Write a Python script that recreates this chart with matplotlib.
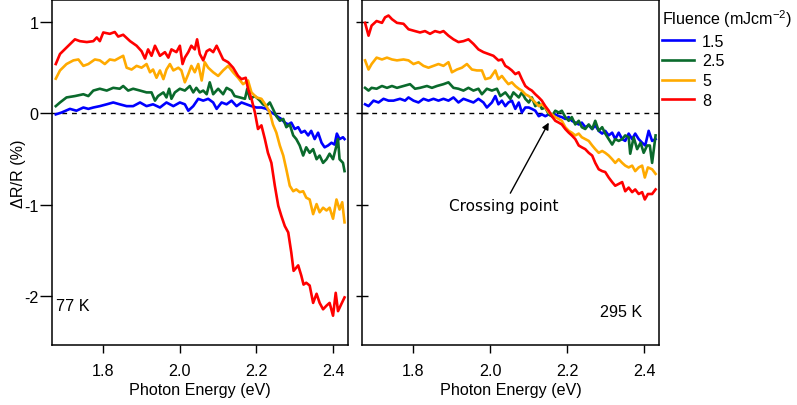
import numpy as np
import matplotlib
matplotlib.use('Agg')
import matplotlib.pyplot as plt

plt.rcParams['font.family'] = ['Liberation Sans', 'DejaVu Sans']
plt.rcParams['mathtext.default'] = 'regular'
plt.rcParams['axes.unicode_minus'] = False

# (photon energy eV, dR/R %)
# ---- 77 K ----
blue_77 = [(1.676, -0.01), (1.691, 0.01), (1.713, 0.05), (1.730, 0.03), (1.748, 0.065), (1.761, 0.05),
           (1.774, 0.065), (1.791, 0.08), (1.809, 0.10), (1.826, 0.12), (1.843, 0.10), (1.861, 0.08),
           (1.878, 0.08), (1.896, 0.12), (1.913, 0.08), (1.930, 0.10), (1.948, 0.065), (1.965, 0.12),
           (1.983, 0.08), (2.000, 0.12), (2.013, 0.10), (2.022, 0.03), (2.035, 0.08), (2.048, 0.16),
           (2.061, 0.14), (2.074, 0.16), (2.087, 0.12), (2.096, 0.05), (2.109, 0.12), (2.122, 0.10),
           (2.135, 0.14), (2.148, 0.08), (2.161, 0.12), (2.174, 0.10), (2.187, 0.08), (2.200, 0.065),
           (2.213, 0.065), (2.226, 0.05), (2.239, 0.01), (2.248, -0.01), (2.257, -0.04), (2.265, -0.06),
           (2.274, -0.10), (2.283, -0.12), (2.291, -0.10), (2.300, -0.17), (2.309, -0.15), (2.317, -0.21),
           (2.326, -0.19), (2.335, -0.24), (2.343, -0.19), (2.352, -0.28), (2.361, -0.21), (2.370, -0.32),
           (2.378, -0.37), (2.387, -0.35), (2.396, -0.32), (2.404, -0.34), (2.410, -0.22), (2.417, -0.28),
           (2.426, -0.26), (2.430, -0.28)]

green_77 = [(1.676, 0.08), (1.687, 0.12), (1.704, 0.175), (1.726, 0.19), (1.748, 0.21), (1.761, 0.19),
            (1.774, 0.25), (1.791, 0.27), (1.809, 0.25), (1.826, 0.28), (1.843, 0.27), (1.852, 0.30),
            (1.865, 0.25), (1.878, 0.27), (1.896, 0.25), (1.913, 0.23), (1.926, 0.23), (1.935, 0.14),
            (1.943, 0.19), (1.957, 0.23), (1.965, 0.175), (1.972, 0.27), (1.978, 0.16), (1.987, 0.23),
            (2.000, 0.27), (2.013, 0.25), (2.026, 0.30), (2.035, 0.23), (2.043, 0.28), (2.052, 0.23),
            (2.061, 0.25), (2.070, 0.21), (2.078, 0.34), (2.087, 0.21), (2.100, 0.27), (2.113, 0.21),
            (2.122, 0.28), (2.135, 0.25), (2.143, 0.19), (2.157, 0.175), (2.170, 0.16), (2.176, 0.27),
            (2.183, 0.16), (2.196, 0.19), (2.209, 0.14), (2.217, 0.10), (2.226, 0.08), (2.235, 0.12),
            (2.243, 0.05), (2.252, -0.03), (2.261, -0.08), (2.270, -0.06), (2.278, -0.15), (2.287, -0.12),
            (2.296, -0.24), (2.304, -0.28), (2.313, -0.35), (2.322, -0.46), (2.330, -0.37), (2.339, -0.43),
            (2.348, -0.39), (2.357, -0.50), (2.365, -0.46), (2.374, -0.54), (2.383, -0.50), (2.391, -0.44),
            (2.400, -0.50), (2.409, -0.35), (2.413, -0.28), (2.417, -0.50), (2.426, -0.54), (2.430, -0.63)]

orange_77 = [(1.676, 0.38), (1.687, 0.47), (1.704, 0.54), (1.722, 0.58), (1.735, 0.59), (1.748, 0.52),
             (1.761, 0.54), (1.778, 0.59), (1.791, 0.58), (1.804, 0.54), (1.817, 0.59), (1.830, 0.58),
             (1.843, 0.61), (1.852, 0.63), (1.861, 0.50), (1.874, 0.48), (1.887, 0.52), (1.900, 0.50),
             (1.913, 0.54), (1.922, 0.45), (1.930, 0.48), (1.939, 0.39), (1.948, 0.47), (1.957, 0.375),
             (1.965, 0.48), (1.974, 0.54), (1.983, 0.47), (1.996, 0.50), (2.004, 0.47), (2.013, 0.34),
             (2.022, 0.43), (2.030, 0.52), (2.039, 0.45), (2.048, 0.54), (2.057, 0.36), (2.065, 0.56),
             (2.074, 0.50), (2.087, 0.45), (2.100, 0.41), (2.113, 0.47), (2.126, 0.52), (2.139, 0.45),
             (2.152, 0.39), (2.165, 0.32), (2.178, 0.36), (2.187, 0.23), (2.200, 0.175), (2.213, 0.16),
             (2.226, 0.08), (2.235, 0.01), (2.243, -0.12), (2.252, -0.21), (2.261, -0.35), (2.270, -0.46),
             (2.278, -0.61), (2.287, -0.79), (2.296, -0.85), (2.304, -0.83), (2.313, -0.86), (2.322, -0.85),
             (2.330, -0.92), (2.339, -0.94), (2.348, -1.10), (2.357, -0.99), (2.365, -1.08), (2.374, -1.03),
             (2.383, -1.06), (2.391, -1.03), (2.400, -1.15), (2.409, -0.94), (2.417, -1.05), (2.424, -0.97),
             (2.430, -1.19)]

red_77 = [(1.676, 0.54), (1.687, 0.65), (1.704, 0.72), (1.726, 0.81), (1.739, 0.79), (1.757, 0.78),
          (1.774, 0.79), (1.783, 0.83), (1.791, 0.79), (1.800, 0.885), (1.817, 0.87), (1.830, 0.89),
          (1.839, 0.84), (1.852, 0.86), (1.870, 0.79), (1.887, 0.74), (1.900, 0.68), (1.909, 0.60),
          (1.917, 0.70), (1.926, 0.63), (1.935, 0.74), (1.948, 0.63), (1.961, 0.67), (1.970, 0.61),
          (1.978, 0.70), (1.991, 0.67), (2.000, 0.74), (2.007, 0.54), (2.013, 0.61), (2.022, 0.67),
          (2.030, 0.74), (2.039, 0.70), (2.045, 0.81), (2.052, 0.65), (2.061, 0.58), (2.070, 0.68),
          (2.078, 0.70), (2.087, 0.67), (2.096, 0.74), (2.104, 0.67), (2.113, 0.59), (2.126, 0.56),
          (2.139, 0.50), (2.152, 0.41), (2.161, 0.375), (2.172, 0.39), (2.178, 0.27), (2.187, 0.16),
          (2.196, 0.01), (2.204, -0.17), (2.213, -0.13), (2.222, -0.28), (2.230, -0.43), (2.239, -0.54),
          (2.248, -0.79), (2.257, -1.01), (2.265, -1.12), (2.274, -1.23), (2.283, -1.30), (2.291, -1.52),
          (2.297, -1.72), (2.309, -1.66), (2.317, -1.77), (2.323, -1.87), (2.330, -1.85), (2.339, -1.88),
          (2.348, -2.07), (2.357, -1.97), (2.365, -2.07), (2.374, -2.14), (2.383, -2.10), (2.391, -2.07),
          (2.400, -2.21), (2.407, -1.96), (2.413, -2.16), (2.422, -2.08), (2.430, -2.01)]

# ---- 295 K ----
blue_295 = [(1.674, 0.10), (1.683, 0.08), (1.696, 0.14), (1.709, 0.12), (1.722, 0.16), (1.735, 0.14),
            (1.748, 0.14), (1.765, 0.16), (1.778, 0.14), (1.787, 0.175), (1.800, 0.14), (1.813, 0.12),
            (1.826, 0.16), (1.839, 0.14), (1.852, 0.16), (1.865, 0.14), (1.878, 0.16), (1.891, 0.14),
            (1.904, 0.175), (1.917, 0.12), (1.930, 0.16), (1.943, 0.14), (1.956, 0.12), (1.969, 0.16),
            (1.982, 0.12), (1.991, 0.065), (2.004, 0.12), (2.013, 0.19), (2.021, 0.10), (2.030, 0.14),
            (2.039, 0.08), (2.047, 0.12), (2.056, 0.14), (2.065, 0.05), (2.074, 0.12), (2.082, 0.01),
            (2.091, 0.065), (2.100, 0.065), (2.108, 0.05), (2.117, 0.03), (2.126, -0.03), (2.134, -0.01),
            (2.143, -0.03), (2.152, -0.01), (2.160, -0.03), (2.169, -0.01), (2.178, -0.03), (2.186, -0.04),
            (2.195, -0.06), (2.204, -0.04), (2.212, -0.08), (2.221, -0.10), (2.230, -0.12), (2.238, -0.10),
            (2.247, -0.15), (2.256, -0.13), (2.265, -0.17), (2.273, -0.13), (2.282, -0.19), (2.291, -0.22),
            (2.299, -0.19), (2.308, -0.24), (2.317, -0.21), (2.325, -0.28), (2.334, -0.21), (2.343, -0.28),
            (2.351, -0.30), (2.360, -0.22), (2.369, -0.28), (2.377, -0.22), (2.386, -0.28), (2.395, -0.32),
            (2.403, -0.35), (2.412, -0.19), (2.421, -0.30), (2.430, -0.28)]

green_295 = [(1.674, 0.28), (1.683, 0.25), (1.691, 0.28), (1.704, 0.27), (1.718, 0.30), (1.731, 0.28),
             (1.744, 0.30), (1.757, 0.28), (1.774, 0.30), (1.791, 0.32), (1.804, 0.27), (1.817, 0.28),
             (1.835, 0.30), (1.848, 0.28), (1.861, 0.30), (1.878, 0.32), (1.891, 0.34), (1.904, 0.28),
             (1.917, 0.27), (1.930, 0.25), (1.943, 0.28), (1.956, 0.25), (1.969, 0.27), (1.978, 0.21),
             (1.991, 0.27), (2.004, 0.25), (2.017, 0.27), (2.026, 0.19), (2.039, 0.23), (2.052, 0.16),
             (2.060, 0.23), (2.074, 0.175), (2.082, 0.23), (2.091, 0.16), (2.100, 0.12), (2.108, 0.175),
             (2.117, 0.08), (2.126, 0.12), (2.134, 0.05), (2.143, 0.065), (2.152, -0.01), (2.160, -0.03),
             (2.169, 0.03), (2.178, 0.01), (2.186, 0.03), (2.195, -0.04), (2.204, -0.08), (2.212, -0.04),
             (2.221, -0.12), (2.230, -0.08), (2.238, -0.15), (2.247, -0.17), (2.256, -0.12), (2.265, -0.17),
             (2.273, -0.08), (2.282, -0.19), (2.291, -0.15), (2.299, -0.22), (2.308, -0.28), (2.317, -0.34),
             (2.325, -0.28), (2.334, -0.30), (2.343, -0.28), (2.351, -0.24), (2.360, -0.26), (2.364, -0.44),
             (2.373, -0.26), (2.382, -0.39), (2.391, -0.32), (2.399, -0.43), (2.408, -0.35), (2.415, -0.35),
             (2.421, -0.54), (2.430, -0.24)]

orange_295 = [(1.674, 0.58), (1.683, 0.48), (1.691, 0.54), (1.704, 0.61), (1.718, 0.59), (1.731, 0.61),
              (1.744, 0.59), (1.757, 0.58), (1.774, 0.59), (1.787, 0.58), (1.800, 0.54), (1.813, 0.56),
              (1.826, 0.52), (1.839, 0.50), (1.852, 0.52), (1.865, 0.54), (1.878, 0.52), (1.891, 0.56),
              (1.900, 0.45), (1.913, 0.48), (1.926, 0.50), (1.939, 0.54), (1.952, 0.48), (1.965, 0.47),
              (1.978, 0.47), (1.987, 0.375), (2.000, 0.39), (2.013, 0.47), (2.021, 0.375), (2.030, 0.41),
              (2.039, 0.36), (2.047, 0.32), (2.056, 0.34), (2.065, 0.30), (2.074, 0.27), (2.082, 0.25),
              (2.091, 0.21), (2.100, 0.19), (2.108, 0.16), (2.117, 0.12), (2.126, 0.08), (2.134, 0.10),
              (2.143, 0.065), (2.152, 0.01), (2.160, -0.01), (2.169, -0.04), (2.178, -0.06), (2.186, -0.08),
              (2.195, -0.15), (2.204, -0.19), (2.212, -0.21), (2.221, -0.24), (2.230, -0.22), (2.238, -0.26),
              (2.247, -0.28), (2.256, -0.30), (2.265, -0.35), (2.273, -0.39), (2.282, -0.43), (2.291, -0.41),
              (2.299, -0.43), (2.308, -0.46), (2.317, -0.50), (2.325, -0.54), (2.334, -0.50), (2.343, -0.54),
              (2.351, -0.57), (2.360, -0.59), (2.369, -0.57), (2.377, -0.63), (2.386, -0.59), (2.395, -0.57),
              (2.402, -0.70), (2.410, -0.59), (2.421, -0.61), (2.430, -0.66)]

red_295 = [(1.674, 0.99), (1.683, 0.85), (1.691, 0.96), (1.704, 1.01), (1.718, 0.99), (1.726, 1.05),
           (1.735, 1.07), (1.744, 1.03), (1.757, 0.99), (1.774, 0.98), (1.787, 0.92), (1.804, 0.90),
           (1.817, 0.885), (1.830, 0.90), (1.843, 0.87), (1.856, 0.90), (1.869, 0.885), (1.878, 0.90),
           (1.891, 0.85), (1.904, 0.81), (1.917, 0.78), (1.930, 0.79), (1.943, 0.81), (1.956, 0.76),
           (1.969, 0.70), (1.982, 0.67), (1.995, 0.65), (2.008, 0.63), (2.021, 0.58), (2.030, 0.59),
           (2.039, 0.52), (2.047, 0.50), (2.056, 0.47), (2.065, 0.43), (2.074, 0.45), (2.082, 0.375),
           (2.091, 0.30), (2.100, 0.27), (2.108, 0.25), (2.117, 0.21), (2.126, 0.175), (2.134, 0.14),
           (2.143, 0.08), (2.152, 0.03), (2.160, -0.03), (2.169, -0.08), (2.178, -0.10), (2.186, -0.12),
           (2.195, -0.17), (2.204, -0.21), (2.212, -0.24), (2.221, -0.28), (2.230, -0.35), (2.238, -0.37),
           (2.247, -0.39), (2.256, -0.43), (2.265, -0.46), (2.273, -0.54), (2.282, -0.61), (2.291, -0.63),
           (2.299, -0.64), (2.308, -0.70), (2.317, -0.75), (2.325, -0.79), (2.334, -0.77), (2.343, -0.75),
           (2.351, -0.85), (2.360, -0.81), (2.369, -0.86), (2.377, -0.83), (2.386, -0.88), (2.395, -0.86),
           (2.402, -0.94), (2.410, -0.88), (2.421, -0.88), (2.430, -0.83)]

fluences = ['1.5', '2.5', '5', '8']
colors = ['#0000ff', '#0a6a2c', '#ffaa00', '#ff0000']
curves_77 = [blue_77, green_77, orange_77, red_77]
curves_295 = [blue_295, green_295, orange_295, red_295]

XLIM = (1.666, 2.439)
YLIM = (-2.53, 1.24)
FS = 11.6


def plot_panel(ax, curves, temp_label, temp_pos):
    for data, c, lab in zip(curves, colors, fluences):
        arr = np.array(data)
        ax.plot(arr[:, 0], arr[:, 1], color=c, lw=1.9, label=lab)
    ax.axhline(0, color='black', lw=1, ls=(0, (3.5, 3.5)), zorder=0)
    ax.set_xlim(*XLIM)
    ax.set_ylim(*YLIM)
    ax.set_xticks([1.8, 2.0, 2.2, 2.4])
    ax.set_xticklabels(['1.8', '2.0', '2.2', '2.4'])
    ax.set_yticks([-2, -1, 0, 1])
    ax.set_xlabel('Photon Energy (eV)', fontsize=FS, labelpad=3)
    ax.text(temp_pos[0], temp_pos[1], temp_label, fontsize=FS, ha='left', va='center')
    for s in ax.spines.values():
        s.set_linewidth(1.1)
    ax.tick_params(axis='x', direction='out', length=6, width=1, labelsize=FS, pad=7)


fig = plt.figure(figsize=(7.97, 4.06), dpi=100)
ax1 = fig.add_axes([0.0652, 0.1478, 0.3714, 0.8498])
ax2 = fig.add_axes([0.4542, 0.1478, 0.3727, 0.8498])

plot_panel(ax1, curves_77, '77 K', (1.676, -2.10))
plot_panel(ax2, curves_295, '295 K', (2.285, -2.16))

ax1.set_ylabel('\u0394R/R (%)', fontsize=FS, labelpad=-1)
ax1.tick_params(axis='y', direction='out', length=8.5, width=1, labelsize=FS, pad=1)
ax2.tick_params(axis='y', direction='inout', length=8, width=1, labelleft=False)

# annotation text is in a wider face in the original
ax2.annotate('Crossing point', xy=(2.152, -0.10), xytext=(2.034, -1.01),
             fontsize=11, family='DejaVu Sans', ha='center', va='center',
             arrowprops=dict(arrowstyle='-|>', color='black', lw=1,
                             mutation_scale=10, shrinkA=2, shrinkB=0))

handles, labels = ax1.get_legend_handles_labels()
fig.legend(handles, labels, title='Fluence (mJcm$^{-2}$)', loc='upper left',
           bbox_to_anchor=(0.818, 1.004), frameon=False, fontsize=FS, title_fontsize=FS,
           handlelength=2.0, handletextpad=0.5, labelspacing=0.3, borderaxespad=0.2,
           alignment='left')

fig.savefig('out.png', dpi=100)
